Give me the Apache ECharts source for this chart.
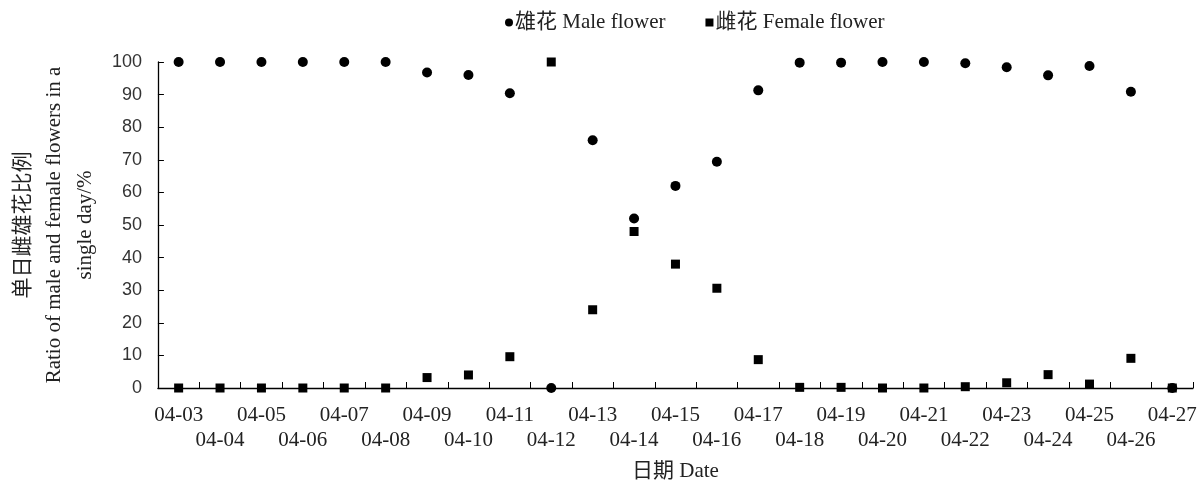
<!DOCTYPE html>
<html>
<head>
<meta charset="utf-8">
<script src="https://cdn.jsdelivr.net/npm/echarts@6/dist/echarts.min.js"></script>
<style>html,body{margin:0;padding:0;background:#fff}#c{width:1202px;height:487px}</style>
</head>
<body>
<div id="c"></div>
<script>
const categories = ['04-03','04-04','04-05','04-06','04-07','04-08','04-09','04-10','04-11','04-12','04-13','04-14','04-15','04-16','04-17','04-18','04-19','04-20','04-21','04-22','04-23','04-24','04-25','04-26','04-27'];
const maleValues = [100,100,100,100,100,100,96.8,96.0,90.4,0,76.0,52.0,62.0,69.4,91.3,99.8,99.8,100,100,99.6,98.4,95.9,98.8,90.9,0];
const femaleValues = [0,0,0,0,0,0,3.2,4.0,9.6,100,24.0,48.0,38.0,30.6,8.7,0.2,0.2,0,0,0.4,1.6,4.1,1.2,9.1,0];
const maleName = '雄花 Male flower';
const femaleName = '雌花 Female flower';
const xName = '日期 Date';
const yName = '单日雌雄花比例\nRatio of male and female flowers in a\nsingle day/%';

const serif = "'Times New Roman','Liberation Serif','Noto Sans CJK SC',serif";
const sans = "Arial,'Liberation Sans',sans-serif";
const chart = echarts.init(document.getElementById('c'));
chart.setOption({
  animation: false,
  backgroundColor: '#fff',
  grid: { left: 154, right: 9, top: 62, bottom: 94, containLabel: false },
  legend: {
    top: 7, left: 500,
    itemGap: 40, itemWidth: 8, itemHeight: 8,
    textStyle: { fontFamily: serif, fontSize: 21, color: '#222', padding: [0,0,0,-3] },
    data: [{ name: maleName, icon: 'circle' }, { name: femaleName, icon: 'rect' }]
  },
  xAxis: {
    type: 'category',
    data: categories,
    boundaryGap: true,
    name: xName,
    nameLocation: 'middle',
    nameGap: 73,
    nameTextStyle: { fontFamily: serif, fontSize: 21, color: '#222' },
    axisLine: { lineStyle: { color: '#000', width: 1.3 } },
    axisTick: { show: true, inside: true, length: 6, lineStyle: { color: '#000', width: 1 } },
    axisLabel: {
      interval: 0, margin: 15, fontFamily: serif, fontSize: 21, color: '#222', lineHeight: 25,
      formatter: (v, i) => (i % 2 === 1 ? '\n' + v : v)
    }
  },
  yAxis: {
    type: 'value', min: 0, max: 100, interval: 10,
    name: yName,
    nameLocation: 'middle',
    nameGap: 53,
    nameTextStyle: { fontFamily: serif, fontSize: 21, color: '#222', lineHeight: 31, align: 'center' },
    axisLine: { show: true, lineStyle: { color: '#000', width: 1.3 } },
    axisTick: { show: true, inside: true, length: 6, lineStyle: { color: '#000', width: 1 } },
    splitLine: { show: false },
    axisLabel: { margin: 16, fontFamily: sans, fontSize: 18, color: '#333' }
  },
  series: [
    { name: maleName, type: 'scatter', data: maleValues, symbol: 'circle', symbolSize: 10, itemStyle: { color: '#000', opacity: 1 } },
    { name: femaleName, type: 'scatter', data: femaleValues, symbol: 'rect', symbolSize: 9, itemStyle: { color: '#000', opacity: 1 } }
  ]
});
</script>
</body>
</html>
